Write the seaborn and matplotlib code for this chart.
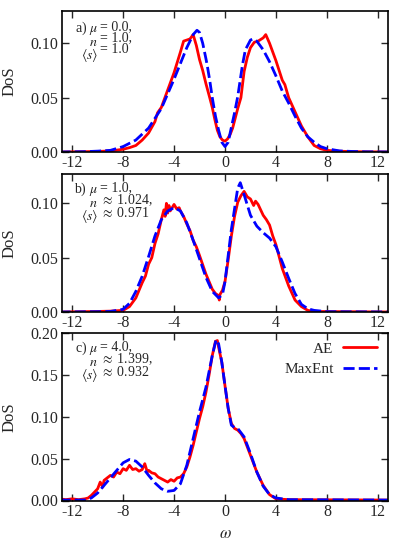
import pandas as pd
import matplotlib
matplotlib.use("Agg")
import matplotlib.pyplot as plt
import seaborn as sns

# ---- data ---------------------------------------------------------------
# panel a) mu = 0.0
w_a_ae = [-13, -11, -10, -9, -8, -7.5, -7, -6.5, -6, -5.5, -5.3, -5, -4.5, -4, -3.5, -3.25,
          -3, -2.75, -2.5, -2.25, -2, -1.75, -1.5, -1.2, -1, -0.8, -0.6, -0.4, -0.2, 0,
          0.2, 0.4, 0.6, 0.8, 1, 1.25, 1.5, 1.75, 2, 2.3, 2.6, 3, 3.2, 3.5, 4, 4.5, 4.7,
          5, 5.5, 6, 6.5, 7, 7.5, 8, 9, 10, 11, 13]
dos_a_ae = [0.0, 0.0003, 0.0005, 0.001, 0.0025, 0.004, 0.006, 0.011, 0.0175, 0.028, 0.036,
            0.041, 0.057, 0.073, 0.092, 0.102, 0.103, 0.104, 0.108, 0.098, 0.085, 0.075,
            0.063, 0.050, 0.041, 0.030, 0.020, 0.014, 0.011, 0.010, 0.012, 0.016, 0.022,
            0.031, 0.040, 0.050, 0.074, 0.087, 0.096, 0.101, 0.102, 0.105, 0.108, 0.100,
            0.084, 0.066, 0.062, 0.050, 0.037, 0.024, 0.014, 0.006, 0.003, 0.0015, 0.0007,
            0.0004, 0.0002, 0.0]
w_a_me = [-13, -11, -10, -9, -8, -7, -6, -5, -4, -3, -2.5, -2.2, -2, -1.75, -1.5, -1.4, -1.2,
          -1, -0.75, -0.5, -0.25, 0, 0.25, 0.45, 0.75, 1, 1.37, 1.6, 2, 2.2, 2.5, 3, 3.5,
          4, 4.5, 5, 5.5, 6, 6.5, 7, 7.5, 8, 9, 10, 11, 13]
dos_a_me = [0.0, 0.0003, 0.0008, 0.0015, 0.005, 0.011, 0.022, 0.040, 0.067, 0.096, 0.108,
            0.112, 0.110, 0.100, 0.086, 0.080, 0.066, 0.050, 0.033, 0.020, 0.009, 0.005,
            0.009, 0.020, 0.036, 0.051, 0.080, 0.094, 0.103, 0.104, 0.102, 0.094, 0.083,
            0.070, 0.056, 0.045, 0.033, 0.022, 0.014, 0.009, 0.005, 0.003, 0.001, 0.0005,
            0.0002, 0.0]

# panel b) mu = 1.0
w_b_ae = [-13, -10, -9, -8, -7.5, -7, -6.5, -6.25, -6, -5.75, -5.5, -5.25, -5, -4.8, -4.7,
          -4.6, -4.5, -4.4, -4.3, -4.1, -4, -3.8, -3.6, -3.5, -3.25, -3, -2.75, -2.5, -2.25,
          -2, -1.5, -1, -0.75, -0.5, -0.45, -0.4, -0.2, 0, 0.25, 0.5, 0.75, 1, 1.25, 1.5,
          1.75, 2, 2.25, 2.4, 2.6, 3, 3.25, 3.5, 3.75, 4, 4.5, 5, 5.5, 6, 6.5, 7, 13]
dos_b_ae = [0.0, 0.0005, 0.0008, 0.0015, 0.005, 0.013, 0.027, 0.033, 0.044, 0.050, 0.063,
            0.072, 0.085, 0.094, 0.088, 0.100, 0.091, 0.098, 0.093, 0.097, 0.099, 0.095,
            0.096, 0.093, 0.088, 0.081, 0.075, 0.066, 0.060, 0.052, 0.035, 0.021, 0.017,
            0.015, 0.011, 0.016, 0.020, 0.028, 0.048, 0.070, 0.088, 0.101, 0.107, 0.111,
            0.106, 0.104, 0.098, 0.102, 0.099, 0.089, 0.085, 0.080, 0.070, 0.062, 0.040,
            0.024, 0.011, 0.005, 0.0015, 0.0005, 0.0]
w_b_me = [-13, -10, -9, -8, -7.5, -7, -6.5, -6, -5.5, -5, -4.5, -4, -3.5, -3, -2.5, -2, -1.5,
          -1, -0.5, -0.2, 0, 0.5, 1, 1.2, 1.5, 2, 2.5, 3, 3.5, 4, 4.5, 5, 5.5, 6, 6.5, 7, 8, 13]
dos_b_me = [0.0, 0.0003, 0.0005, 0.0025, 0.008, 0.019, 0.033, 0.051, 0.070, 0.085, 0.093,
            0.096, 0.093, 0.082, 0.066, 0.049, 0.032, 0.019, 0.013, 0.016, 0.028, 0.076,
            0.114, 0.119, 0.108, 0.089, 0.079, 0.073, 0.068, 0.060, 0.046, 0.031, 0.017,
            0.007, 0.003, 0.0015, 0.0003, 0.0]

# panel c) mu = 4.0
w_c_ae = [-13, -12.5, -12, -11.5, -11, -10.75, -10.5, -10.25, -10, -9.8, -9.6, -9.5, -9.25,
          -9, -8.75, -8.5, -8.25, -8, -7.75, -7.5, -7.25, -7, -6.75, -6.5, -6.3, -6.1, -6,
          -5.75, -5.5, -5.25, -5, -4.75, -4.5, -4.25, -4, -3.75, -3.5, -3.25, -3, -2.75,
          -2.5, -2.25, -2, -1.75, -1.5, -1.25, -1, -0.75, -0.6, -0.5, -0.25, 0, 0.25, 0.5,
          0.75, 1, 1.25, 1.5, 2, 2.5, 3, 3.5, 4, 5, 13]
dos_c_ae = [0.002, 0.001, 0.002, 0.001, 0.002, 0.003, 0.006, 0.010, 0.014, 0.022, 0.016,
            0.024, 0.027, 0.030, 0.028, 0.034, 0.032, 0.038, 0.036, 0.042, 0.037, 0.038,
            0.035, 0.037, 0.044, 0.034, 0.036, 0.033, 0.032, 0.028, 0.026, 0.024, 0.022,
            0.025, 0.023, 0.027, 0.028, 0.032, 0.040, 0.052, 0.066, 0.082, 0.098, 0.112,
            0.129, 0.150, 0.173, 0.190, 0.191, 0.183, 0.165, 0.137, 0.110, 0.092, 0.086,
            0.084, 0.080, 0.074, 0.054, 0.034, 0.018, 0.007, 0.002, 0.001, 0.0005]
w_c_me = [-13, -11, -10.5, -10, -9.5, -9, -8.5, -8, -7.5, -7, -6.5, -6, -5.5, -5, -4.5, -4,
          -3.5, -3, -2.5, -2, -1.5, -1, -0.7, -0.5, -0.25, 0, 0.25, 0.5, 0.75, 1, 1.5, 2,
          2.5, 3, 3.5, 4, 5, 13]
dos_c_me = [0.0005, 0.0005, 0.003, 0.009, 0.018, 0.027, 0.036, 0.045, 0.049, 0.047, 0.040,
            0.030, 0.021, 0.014, 0.011, 0.012, 0.020, 0.042, 0.074, 0.106, 0.135, 0.173,
            0.192, 0.187, 0.165, 0.137, 0.110, 0.090, 0.087, 0.086, 0.076, 0.056, 0.034,
            0.017, 0.007, 0.003, 0.001, 0.0005]

panel_tags = ["a)", "b)", "c)"]
mu_text = ["= 0.0,", "= 1.0,", "= 4.0,"]
n_text = ["= 1.0,", r"$\approx$ 1.024,", r"$\approx$ 1.399,"]
s_text = ["= 1.0", r"$\approx$ 0.971", r"$\approx$ 0.932"]
x_ticks = [-12, -8, -4, 0, 4, 8, 12]
y_tops = [0.13, 0.127, 0.20]
y_ticks = [[0.0, 0.05, 0.10], [0.0, 0.05, 0.10], [0.0, 0.05, 0.10, 0.15, 0.20]]

curves = [
    (w_a_ae, dos_a_ae, w_a_me, dos_a_me),
    (w_b_ae, dos_b_ae, w_b_me, dos_b_me),
    (w_c_ae, dos_c_ae, w_c_me, dos_c_me),
]

# ---- style --------------------------------------------------------------
sns.set_style("ticks")
plt.rcParams["font.family"] = ["Liberation Serif", "DejaVu Serif"]
plt.rcParams["mathtext.fontset"] = "stix"
plt.rcParams["axes.unicode_minus"] = False

W, H = 399, 550
fig = plt.figure(figsize=(W / 100, H / 100), dpi=100)

# axes boxes in pixels: (left, top, right, bottom)
boxes = [(62, 10.7, 388, 152), (62, 174, 388, 312), (62, 333, 388, 500.5)]
text_tops = [20, 181, 340]

for i, (box, (wa, da, wm, dm)) in enumerate(zip(boxes, curves)):
    l, t, r, b = box
    ax = fig.add_axes([l / W, 1 - b / H, (r - l) / W, (b - t) / H])
    ae = pd.DataFrame({"omega": wa, "DoS": da})
    me = pd.DataFrame({"omega": wm, "DoS": dm})
    sns.lineplot(data=ae, x="omega", y="DoS", ax=ax, color="#ff0000", lw=2.0,
                 label="AE", legend=False)
    sns.lineplot(data=me, x="omega", y="DoS", ax=ax, color="#0000ff", lw=2.0,
                 linestyle=(0, (4, 1.5)), label="MaxEnt", legend=False)

    ax.set_xlim(-12.8, 12.8)
    ax.set_ylim(0, y_tops[i])
    ax.set_xticks(x_ticks)
    ax.set_yticks(y_ticks[i])
    ax.set_xticklabels([str(v) for v in x_ticks])
    ax.set_yticklabels(["%.2f" % v for v in y_ticks[i]])
    ax.tick_params(direction="in", top=True, right=True, length=5, width=1,
                   labelsize=11.5, pad=2.5)
    for s in ax.spines.values():
        s.set_linewidth(1.2)
        s.set_color("black")
    ax.set_ylabel("DoS", fontsize=12)
    ax.yaxis.set_label_coords(-0.135, 0.5)
    if i == 2:
        ax.set_xlabel(r"$\omega$", fontsize=12)
        ax.xaxis.set_label_coords(0.5, -0.155)
        ax.legend(loc="upper right", frameon=False, markerfirst=False,
                  fontsize=11, handlelength=2.2, handletextpad=0.65,
                  labelspacing=0.45, borderpad=0, borderaxespad=0,
                  bbox_to_anchor=(377 / W, 1 - 342 / H),
                  bbox_transform=fig.transFigure)
    else:
        ax.set_xlabel("")

    # parameter block: names (right aligned) and values (left aligned)
    names = panel_tags[i] + r" $\mu$" + "\n" + r"$n$" + "\n" + r"$\langle s\rangle$"
    values = mu_text[i] + "\n" + n_text[i] + "\n" + s_text[i]
    y0 = 1 - text_tops[i] / H
    fig.text(98 / W, y0, names, ha="right", va="top", multialignment="right",
             fontsize=10, linespacing=0.85)
    fig.text(100 / W, y0, values, ha="left", va="top", multialignment="left",
             fontsize=10, linespacing=0.85)

fig.savefig("out.png", dpi=100)
